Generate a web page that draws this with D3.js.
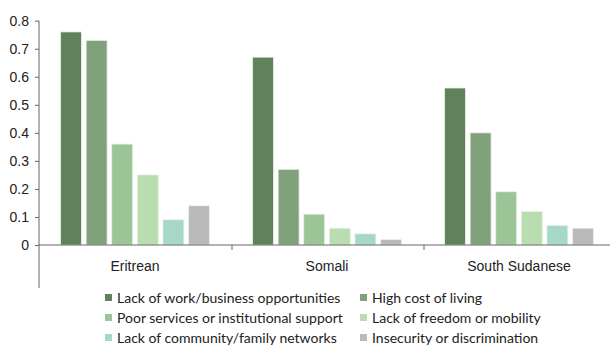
<!DOCTYPE html>
<html>
<head>
<meta charset="utf-8">
<script src="https://cdn.jsdelivr.net/npm/d3@7"></script>
<style>
  body { margin: 0; background: #fff; }
  svg { display: block; font-family: "Source Sans Pro", Lato, "Noto Sans", sans-serif; }
  .axis path, .axis line { stroke: #666; }
  .axis text { fill: #222; font-size: 14px; }
  .legend text { fill: #222; font-size: 14px; }
</style>
</head>
<body>
<div id="chart"></div>
<script>
// Categories (groups)
const groups = ["Eritrean", "Somali", "South Sudanese"];

// Series names
const series = [
  "Lack of work/business opportunities",
  "High cost of living",
  "Poor services or institutional support",
  "Lack of freedom or mobility",
  "Lack of community/family networks",
  "Insecurity or discrimination"
];

// Values per series, in group order
const lackWork = [0.76, 0.67, 0.56];
const highCost = [0.73, 0.27, 0.40];
const poorServices = [0.36, 0.11, 0.19];
const lackFreedom = [0.25, 0.06, 0.12];
const lackCommunity = [0.09, 0.04, 0.07];
const insecurity = [0.14, 0.02, 0.06];

const yTicks = [0, 0.1, 0.2, 0.3, 0.4, 0.5, 0.6, 0.7, 0.8];

const colors = ["#5f825b", "#80a17b", "#9bc596", "#b8ddb0", "#a6d8c5", "#bababa"];

const seriesValues = [lackWork, highCost, poorServices, lackFreedom, lackCommunity, insecurity];
const data = groups.map((g, i) => ({
  group: g,
  values: series.map((s, j) => ({key: s, value: seriesValues[j][i]}))
}));

const W = 610, H = 347;
const margin = {top: 20, left: 39};
const yZero = 245;

const svg = d3.select("#chart")
  .append("svg")
  .attr("width", W)
  .attr("height", H);

// Scales
const x0 = d3.scaleBand()
  .domain(groups)
  .range([margin.left, margin.left + 3 * 192]);

const x1 = d3.scaleBand()
  .domain(series)
  .range([0, x0.bandwidth()])
  .paddingInner(0.18)
  .paddingOuter(0.84);

const y = d3.scaleLinear()
  .domain([0, 0.8])
  .range([yZero, margin.top + 0.7]);

const color = d3.scaleOrdinal()
  .domain(series)
  .range(colors);

// Bars
svg.append("g")
  .selectAll("g")
  .data(data)
  .join("g")
  .attr("transform", d => `translate(${x0(d.group)},0)`)
  .selectAll("rect")
  .data(d => d.values)
  .join("rect")
  .attr("x", d => x1(d.key))
  .attr("y", d => y(d.value))
  .attr("width", x1.bandwidth())
  .attr("height", d => y(0) - y(d.value))
  .attr("fill", d => color(d.key))
  .attr("stroke", "#eef3ec")
  .attr("stroke-width", 0.8);

// Y axis
const yAxis = svg.append("g")
  .attr("class", "axis")
  .attr("transform", `translate(${margin.left},0)`)
  .call(d3.axisLeft(y).tickValues(yTicks).tickFormat(d => d === 0 ? "0" : d3.format(".1f")(d)).tickSize(4).tickSizeOuter(0));
yAxis.select(".domain").remove();
yAxis.append("line")
  .attr("x1", 0).attr("x2", 0)
  .attr("y1", y(0.8)).attr("y2", 288)
  .attr("stroke", "#666");
yAxis.selectAll("text").attr("dx", "-3px");

// X axis
const xAxis = svg.append("g")
  .attr("class", "axis")
  .attr("transform", `translate(0,${yZero})`)
  .call(d3.axisBottom(x0).tickSize(0).tickPadding(16));
xAxis.select(".domain").remove();
xAxis.append("line")
  .attr("x1", margin.left).attr("x2", W)
  .attr("stroke", "#666");
// separators between groups
xAxis.selectAll(".sep")
  .data(groups.slice(1).concat(["end"]))
  .join("line")
  .attr("class", "sep")
  .attr("x1", (d, i) => x0.range()[0] + (i + 1) * x0.step() + 1)
  .attr("x2", (d, i) => x0.range()[0] + (i + 1) * x0.step() + 1)
  .attr("y1", 0).attr("y2", 5)
  .attr("stroke", "#666");

// Legend
const legendCols = [105, 360];
const legendRows = [298, 318, 338];
const legend = svg.append("g").attr("class", "legend");
const items = legend.selectAll("g")
  .data(series)
  .join("g")
  .attr("transform", (d, i) => `translate(${legendCols[i % 2]},${legendRows[Math.floor(i / 2)]})`);
items.append("rect")
  .attr("x", 0).attr("y", -4)
  .attr("width", 7).attr("height", 7)
  .attr("fill", d => color(d));
items.append("text")
  .attr("x", 12)
  .attr("y", 0)
  .attr("dy", "0.35em")
  .text(d => d);
</script>
</body>
</html>
